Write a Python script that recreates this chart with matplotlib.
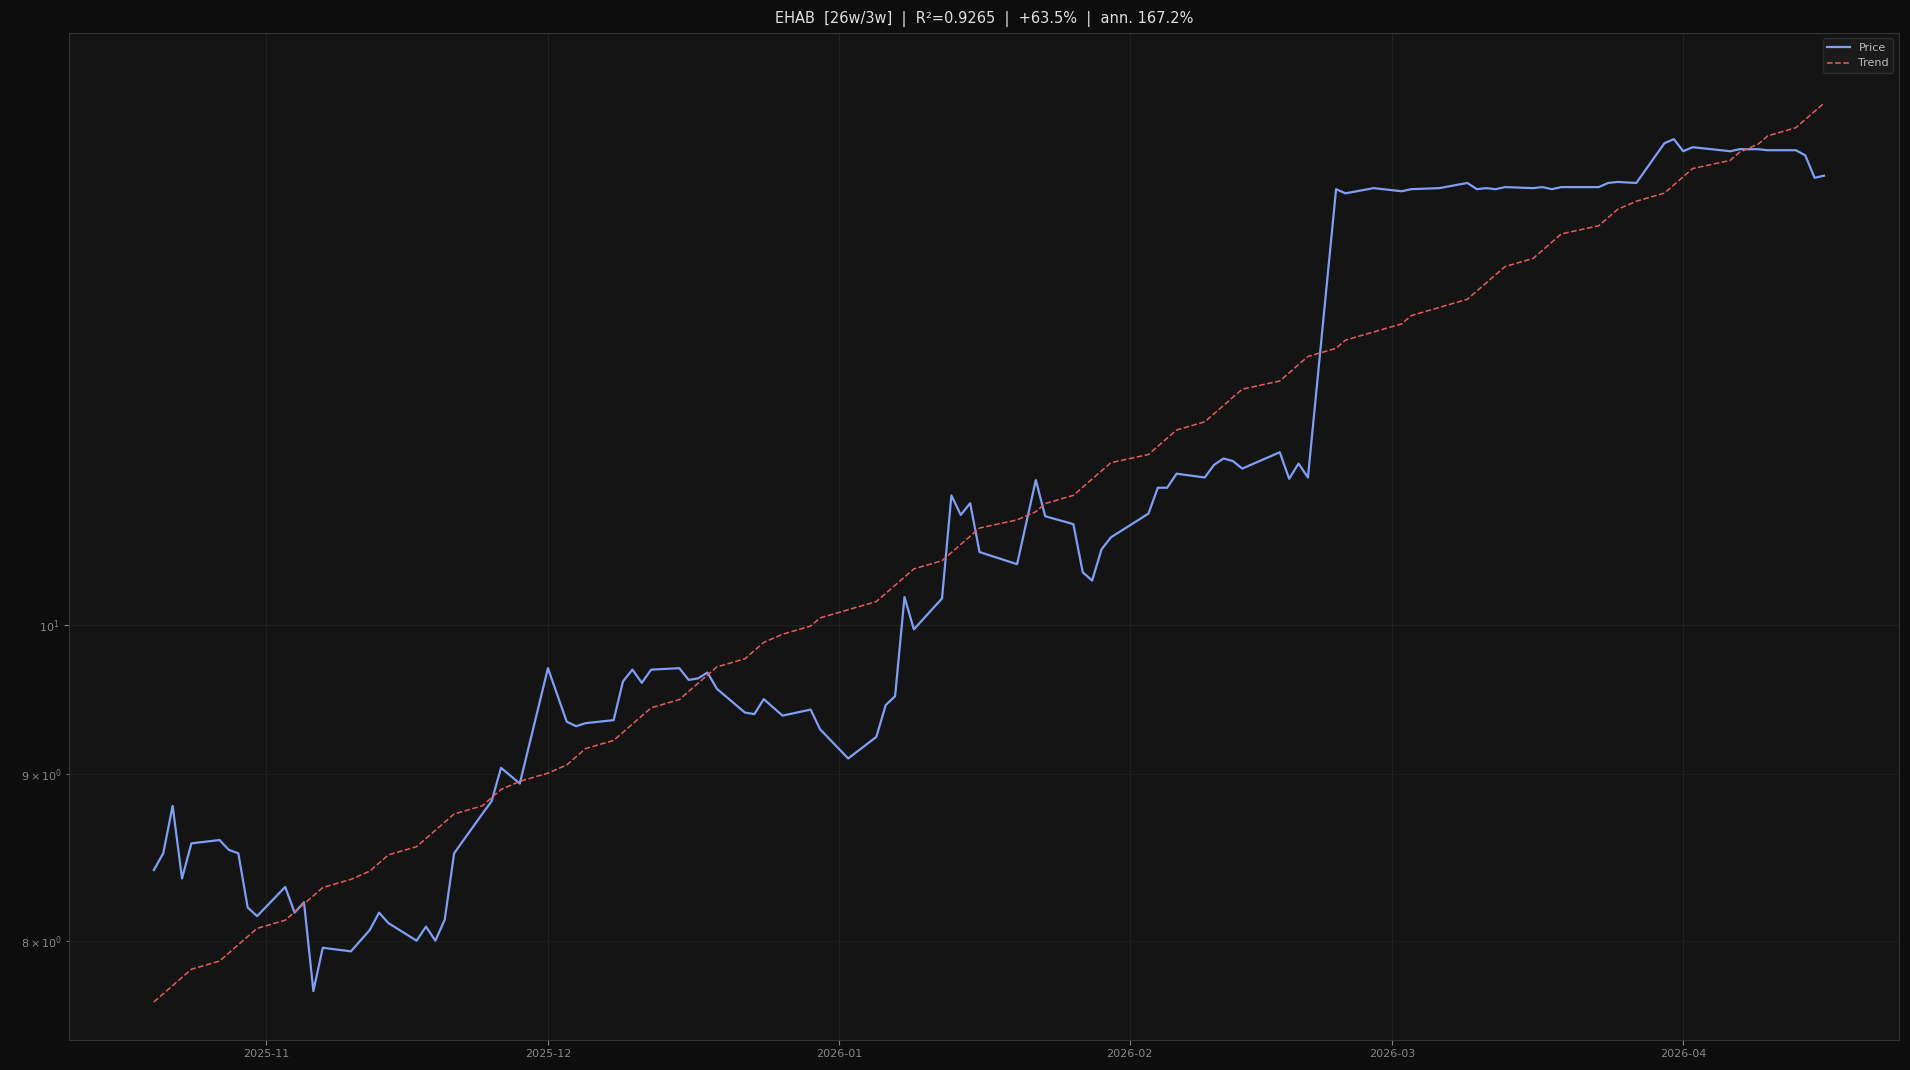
import numpy as np
import pandas as pd
import matplotlib
matplotlib.use('Agg')
import matplotlib.pyplot as plt
import matplotlib.dates as mdates

dates = [
    '2025-10-20', '2025-10-21', '2025-10-22', '2025-10-23', '2025-10-24',
    '2025-10-27', '2025-10-28', '2025-10-29', '2025-10-30', '2025-10-31',
    '2025-11-03', '2025-11-04', '2025-11-05', '2025-11-06', '2025-11-07',
    '2025-11-10', '2025-11-12', '2025-11-13', '2025-11-14',
    '2025-11-17', '2025-11-18', '2025-11-19', '2025-11-20', '2025-11-21',
    '2025-11-24', '2025-11-25', '2025-11-26', '2025-11-28',
    '2025-12-01', '2025-12-03', '2025-12-04', '2025-12-05',
    '2025-12-08', '2025-12-09', '2025-12-10', '2025-12-11', '2025-12-12',
    '2025-12-15', '2025-12-16', '2025-12-17', '2025-12-18', '2025-12-19',
    '2025-12-22', '2025-12-23', '2025-12-24', '2025-12-26',
    '2025-12-29', '2025-12-30', '2026-01-02',
    '2026-01-05', '2026-01-06', '2026-01-07', '2026-01-08', '2026-01-09',
    '2026-01-12', '2026-01-13', '2026-01-14', '2026-01-15', '2026-01-16',
    '2026-01-20', '2026-01-22', '2026-01-23',
    '2026-01-26', '2026-01-27', '2026-01-28', '2026-01-29', '2026-01-30',
    '2026-02-03', '2026-02-04', '2026-02-05', '2026-02-06',
    '2026-02-09', '2026-02-10', '2026-02-11', '2026-02-12', '2026-02-13',
    '2026-02-17', '2026-02-18', '2026-02-19', '2026-02-20',
    '2026-02-23', '2026-02-24', '2026-02-27',
    '2026-03-02', '2026-03-03', '2026-03-06',
    '2026-03-09', '2026-03-10', '2026-03-11', '2026-03-12', '2026-03-13',
    '2026-03-16', '2026-03-17', '2026-03-18', '2026-03-19',
    '2026-03-23', '2026-03-24', '2026-03-25', '2026-03-27',
    '2026-03-30', '2026-03-31', '2026-04-01', '2026-04-02',
    '2026-04-06', '2026-04-07', '2026-04-09', '2026-04-10',
    '2026-04-13', '2026-04-14', '2026-04-15', '2026-04-16',
]
prices = [
    8.41, 8.51, 8.80, 8.36, 8.57,
    8.59, 8.53, 8.51, 8.19, 8.14,
    8.31, 8.16, 8.22, 7.72, 7.96,
    7.94, 8.06, 8.16, 8.10,
    8.00, 8.08, 8.00, 8.12, 8.51,
    8.75, 8.83, 9.04, 8.94,
    9.70, 9.34, 9.31, 9.33,
    9.35, 9.61, 9.69, 9.60, 9.69,
    9.70, 9.62, 9.63, 9.67, 9.56,
    9.40, 9.39, 9.49, 9.38,
    9.42, 9.29, 9.10,
    9.24, 9.45, 9.51, 10.20, 9.97,
    10.19, 10.96, 10.81, 10.90, 10.53,
    10.44, 11.08, 10.80,
    10.74, 10.38, 10.32, 10.55, 10.64,
    10.82, 11.02, 11.02, 11.13,
    11.10, 11.20, 11.25, 11.23, 11.17,
    11.30, 11.09, 11.21, 11.10,
    13.61, 13.57, 13.62,
    13.59, 13.61, 13.62,
    13.67, 13.61, 13.62, 13.61, 13.63,
    13.62, 13.63, 13.61, 13.63,
    13.63, 13.67, 13.68, 13.67,
    14.06, 14.10, 13.98, 14.02,
    13.98, 14.00, 14.00, 13.99,
    13.99, 13.94, 13.72, 13.74,
]

x = pd.to_datetime(dates)
y = np.array(prices)

# log-linear trend on trading-day index
idx = np.arange(len(y))
slope, icept = np.polyfit(idx, np.log(y), 1)
trend = np.exp(icept + slope * idx)

W, H = 1568, 878  # layout measured on the scaled reference
fig = plt.figure(figsize=(19.1, 10.7), dpi=100, facecolor='#0d0d0d')
ax = fig.add_axes([57 / W, 1 - 853 / H, (1559 - 57) / W, (853 - 27) / H])
ax.set_facecolor('#141414')

ax.plot(x, y, color='#7f9ff5', lw=1.6, label='Price')
ax.plot(x, trend, color='#e85c5c', lw=1.1, ls='--', label='Trend')

ax.set_yscale('log')
ax.set_ylim(7.46, 15.2)
ax.set_xlim(pd.Timestamp('2025-10-11'), pd.Timestamp('2026-04-24'))
ax.xaxis.set_major_locator(mdates.MonthLocator())
ax.xaxis.set_major_formatter(mdates.DateFormatter('%Y-%m'))

ax.grid(True, which='major', color='#222222', lw=0.8)
ax.grid(True, which='minor', axis='y', color='#1e1e1e', lw=0.6)
ax.tick_params(colors='#888888', labelsize=8, which='both')
for s in ax.spines.values():
    s.set_color('#333333')

ax.set_title('EHAB  [26w/3w]  |  R²=0.9265  |  +63.5%  |  ann. 167.2%',
             color='#e0e0e0', fontsize=10.5, pad=7)
leg = ax.legend(loc='upper right', fontsize=8, facecolor='#1c1c1c', edgecolor='#333333')
for t in leg.get_texts():
    t.set_color('#bbbbbb')

fig.savefig('out.png', dpi=100, facecolor=fig.get_facecolor())
